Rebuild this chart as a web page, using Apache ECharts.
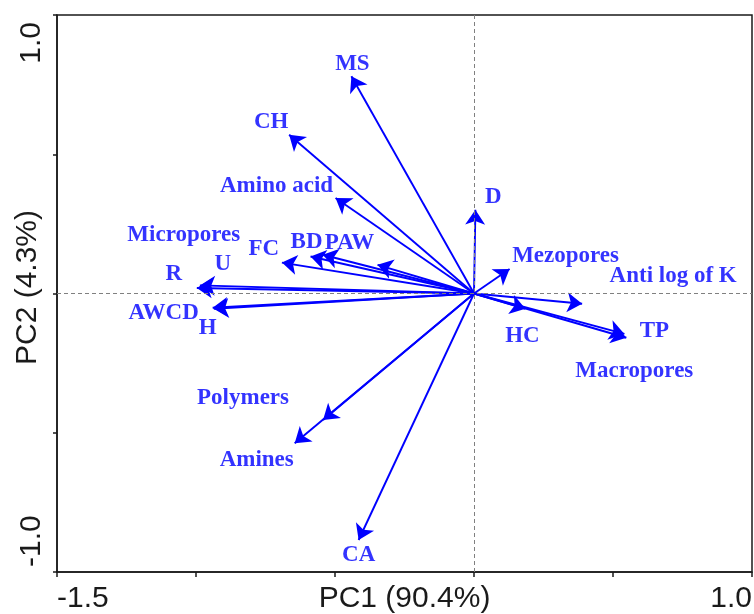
<!DOCTYPE html>
<html>
<head>
<meta charset="utf-8">
<script src="https://cdn.jsdelivr.net/npm/echarts@6/dist/echarts.min.js"></script>
<style>
html,body{margin:0;padding:0;background:#fff;}
#chart{width:754px;height:614px;}
</style>
</head>
<body>
<div id="chart"></div>
<script>
// ---- data ----
const variables = ['MS','CH','Amino acid','D','Mezopores','Anti log of K','HC','TP','Macropores',
  'Polymers','Amines','CA','FC','BD','Micropores','PAW','R','U','AWCD','H'];
const pc1 = [-0.441,-0.665,-0.498,0.005,0.128,0.389,0.185,0.541,0.548,
  -0.543,-0.645,-0.415,-0.691,-0.588,-0.544,-0.347,-0.997,-0.986,-0.940,-0.936];
const pc2 = [0.780,0.570,0.343,0.301,0.088,-0.037,-0.055,-0.145,-0.159,
  -0.454,-0.538,-0.885,0.111,0.133,0.139,0.103,0.020,0.029,-0.051,-0.055];
const xLabelValues = [-1.5, 1.0];
const xLabelTexts = ['-1.5', '1.0'];
const yLabelValues = [-1.0, 1.0];
const yLabelTexts = ['-1.0', '1.0'];
const xTitle = 'PC1 (90.4%)';
const yTitle = 'PC2 (4.3%)';

// ---- layout (label offsets from arrow tips, px) ----
const labelOffsets = {
  'MS':[1,-12],'CH':[-18,-13],'Amino acid':[-59,-12],'D':[18,-13],'Mezopores':[56,-13],
  'Anti log of K':[91,-28],'HC':[-3,27],'TP':[30,-3],'Macropores':[8,33],'Polymers':[-80,-22],
  'Amines':[-38,17],'CA':[0,15],'FC':[-18,-14],'BD':[-4,-14],'Micropores':[-139,-20],
  'PAW':[-28,-22],'R':[-23,-14],'U':[23,-21],'AWCD':[-49,5],'H':[-6,19]
};
const BLUE = '#0000ff';
const AXIS_COLOR = '#1a1a1a';
const axisFont = {fontFamily:'Liberation Sans, Arial', fontSize:30, color:AXIS_COLOR};

function fmt(values, texts, styles){
  return function(v){
    for (let i=0;i<values.length;i++){
      if (Math.abs(v-values[i])<1e-9) return styles ? '{' + styles[i] + '|' + texts[i] + '}' : texts[i];
    }
    return '';
  };
}

const chart = echarts.init(document.getElementById('chart'), null, {renderer:'canvas'});

const option = {
  animation:false,
  backgroundColor:'#fff',
  grid:{left:57,right:2,top:15,bottom:42,show:true,borderColor:AXIS_COLOR,borderWidth:1.5,
    containLabel:false,outerBoundsMode:'none'},
  xAxis:{
    type:'value',min:-1.5,max:1.0,interval:0.5,
    name:xTitle,nameLocation:'middle',nameGap:12,nameMoveOverlap:false,
    nameTextStyle:Object.assign({verticalAlign:'top'},axisFont),
    axisLine:{show:true,onZero:false,lineStyle:{color:AXIS_COLOR,width:1.5}},
    axisTick:{show:true,length:5,lineStyle:{color:AXIS_COLOR,width:1.5}},
    splitLine:{show:false},
    axisLabel:Object.assign({margin:12,formatter:fmt(xLabelValues,xLabelTexts),
      alignMinLabel:'left',alignMaxLabel:'right'},axisFont)
  },
  yAxis:{
    type:'value',min:-1.0,max:1.0,interval:0.5,
    name:yTitle,nameLocation:'middle',nameGap:14,nameRotate:90,nameMoveOverlap:false,
    nameTextStyle:Object.assign({verticalAlign:'bottom',padding:[0,0,0,12]},axisFont),
    axisLine:{show:true,onZero:false,lineStyle:{color:AXIS_COLOR,width:1.5}},
    axisTick:{show:true,length:4,lineStyle:{color:AXIS_COLOR,width:1.5}},
    splitLine:{show:false},
    axisLabel:Object.assign({margin:10,rotate:90,
      formatter:fmt(yLabelValues,yLabelTexts,['mn','mx']),
      alignMinLabel:'left',alignMaxLabel:'right',
      rich:{
        mn:Object.assign({padding:[0,0,0,5]},axisFont),
        mx:Object.assign({padding:[0,7,0,0]},axisFont)
      }},axisFont)
  },
  series:[
    {
      type:'scatter',
      data:[],
      markLine:{
        silent:true,symbol:['none','none'],label:{show:false},
        lineStyle:{type:[4,3],color:'#808080',width:1},
        data:[{xAxis:0},{yAxis:0}]
      },
      z:1
    },
    {
      type:'lines',
      coordinateSystem:'cartesian2d',
      symbol:['none','arrow'],
      symbolSize:15,
      lineStyle:{color:BLUE,width:1.9,opacity:1},
      itemStyle:{color:BLUE},
      data:variables.map((n,i)=>({name:n,coords:[[0,0],[pc1[i],pc2[i]]]})),
      z:3
    },
    {
      type:'scatter',
      symbolSize:1,
      itemStyle:{color:'rgba(0,0,0,0)'},
      data:variables.map((n,i)=>({
        name:n,value:[pc1[i],pc2[i]],
        label:{offset:labelOffsets[n]}
      })),
      label:{
        show:true,position:'inside',formatter:p=>p.name,
        fontFamily:'Liberation Serif, Times New Roman',fontWeight:'bold',fontSize:23,color:BLUE
      },
      z:4
    }
  ]
};
chart.setOption(option);
</script>
</body>
</html>
